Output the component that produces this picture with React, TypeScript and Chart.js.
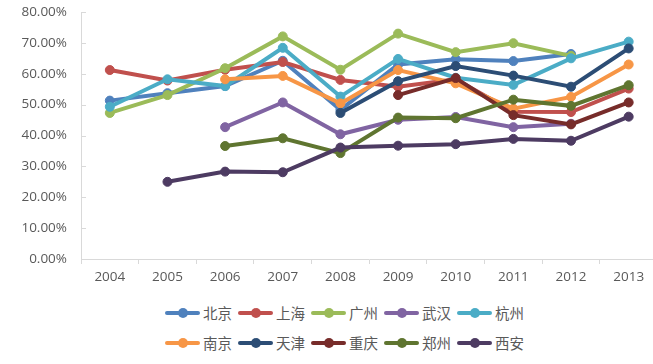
import React, { useEffect, useRef } from "react";
import { Chart, registerables } from "chart.js";

Chart.register(...registerables);

const years = ["2004", "2005", "2006", "2007", "2008", "2009", "2010", "2011", "2012", "2013"];
const cityNames = ["北京", "上海", "广州", "武汉", "杭州", "南京", "天津", "重庆", "郑州", "西安"];
const cityColors = ["#4F81BD", "#C0504D", "#9BBB59", "#8064A2", "#4BACC6", "#F79646", "#2C4D75", "#772C2A", "#5F7530", "#4D3B62"];

const beijing = [51.3, 53.7, 56.0, 64.2, 48.3, 63.0, 64.7, 64.1, 66.4, null];
const shanghai = [61.2, 57.8, 61.3, 63.8, 58.0, 55.8, 58.2, 47.7, 47.6, 55.2];
const guangzhou = [47.3, 53.1, 61.8, 72.1, 61.3, 73.0, 67.0, 69.9, 65.8, null];
const wuhan = [null, null, 42.7, 50.7, 40.4, 45.1, 46.0, 42.7, 43.8, null];
const hangzhou = [49.3, 58.2, 56.0, 68.4, 52.6, 64.8, 58.7, 56.4, 65.0, 70.4];
const nanjing = [null, null, 58.2, 59.3, 50.4, 61.2, 56.9, 48.7, 52.5, 63.0];
const tianjin = [null, null, null, null, 47.3, 57.6, 62.5, 59.4, 55.8, 68.2];
const chongqing = [null, null, null, null, null, 53.1, 58.6, 46.6, 43.6, 50.7];
const zhengzhou = [null, null, 36.6, 39.1, 34.3, 45.8, 45.6, 51.6, 49.6, 56.3];
const xian = [null, 25.0, 28.3, 28.1, 36.1, 36.7, 37.2, 38.9, 38.3, 46.1];

const seriesValues = [beijing, shanghai, guangzhou, wuhan, hangzhou, nanjing, tianjin, chongqing, zhengzhou, xian];

const yMin = 0;
const yMax = 80;
const yStep = 10;

const TEXT = "#595959";
const AXIS = "#D9D9D9";

const insideTicks = {
  id: "insideTicks",
  beforeDatasetsDraw(chart: any) {
    const y = chart.scales.y;
    const ctx = chart.ctx;
    ctx.save();
    ctx.strokeStyle = AXIS;
    ctx.lineWidth = 1;
    y.ticks.forEach((_t: any, i: number) => {
      const py = Math.round(y.getPixelForTick(i)) + 0.5;
      ctx.beginPath();
      ctx.moveTo(y.right, py);
      ctx.lineTo(y.right + 5, py);
      ctx.stroke();
    });
    ctx.restore();
  },
};

function LegendItem({ name, color }: { name: string; color: string }) {
  return (
    <div style={{ width: 73, height: 20, display: "flex", alignItems: "center" }}>
      <div style={{ position: "relative", width: 35, height: 10 }}>
        <div style={{ position: "absolute", left: 0, top: 3, width: 35, height: 4, background: color, borderRadius: 2 }} />
        <div style={{ position: "absolute", left: 13, top: 0, width: 10, height: 10, background: color, borderRadius: 5 }} />
      </div>
      <span style={{ marginLeft: 3, fontFamily: "'Noto Sans CJK SC', sans-serif", fontSize: 14.5, color: TEXT, lineHeight: "20px", whiteSpace: "nowrap" }}>{name}</span>
    </div>
  );
}

export default function App() {
  const ref = useRef<HTMLCanvasElement | null>(null);

  useEffect(() => {
    if (!ref.current) return;
    const datasets = cityNames.map((name, i) => ({
      label: name,
      data: seriesValues[i],
      borderColor: cityColors[i],
      backgroundColor: cityColors[i],
      pointBackgroundColor: cityColors[i],
      pointBorderColor: cityColors[i],
      borderWidth: 4,
      pointRadius: 4.5,
      pointBorderWidth: 1,
      tension: 0,
      spanGaps: false,
      order: cityNames.length - i,
    }));
    const chart = new Chart(ref.current, {
      type: "line",
      data: { labels: years, datasets },
      plugins: [insideTicks],
      options: {
        animation: false,
        responsive: false,
        devicePixelRatio: 1,
        layout: { padding: { left: 0, right: 4, top: 12, bottom: 0 } },
        plugins: { legend: { display: false }, tooltip: { enabled: false } },
        scales: {
          x: {
            type: "category",
            offset: true,
            grid: { display: true, offset: true, drawOnChartArea: false, drawTicks: true, tickLength: 5, color: AXIS },
            border: { display: true, color: AXIS },
            ticks: { color: TEXT, font: { family: "'Open Sans', sans-serif", size: 13.5 }, padding: 5, maxRotation: 0, autoSkip: false },
            afterFit: (s: any) => { s.height = 31; s.paddingLeft = 0; s.paddingRight = 0; },
          },
          y: {
            min: yMin,
            max: yMax,
            grid: { display: false, drawTicks: false },
            border: { display: true, color: AXIS },
            ticks: {
              stepSize: yStep,
              color: TEXT,
              font: { family: "'Open Sans', sans-serif", size: 13.5 },
              padding: 14,
              callback: (v: any) => Number(v).toFixed(2) + "%",
            },
            afterFit: (s: any) => { s.width = 81; s.paddingTop = 0; s.paddingBottom = 0; },
          },
        },
      },
    });
    return () => chart.destroy();
  }, []);

  const row1 = cityNames.slice(0, 5);
  const row2 = cityNames.slice(5);

  return (
    <div style={{ position: "absolute", left: 0, top: 0, width: 653, height: 364, overflow: "hidden", background: "#fff" }}>
      <canvas ref={ref} width={663} height={290} style={{ position: "absolute", left: 0, top: 0, width: 663, height: 290 }} />
      <div style={{ position: "absolute", left: 165, top: 303, display: "flex" }}>
        {row1.map((n, i) => <LegendItem key={n} name={n} color={cityColors[i]} />)}
      </div>
      <div style={{ position: "absolute", left: 165, top: 333, display: "flex" }}>
        {row2.map((n, i) => <LegendItem key={n} name={n} color={cityColors[i + 5]} />)}
      </div>
    </div>
  );
}
